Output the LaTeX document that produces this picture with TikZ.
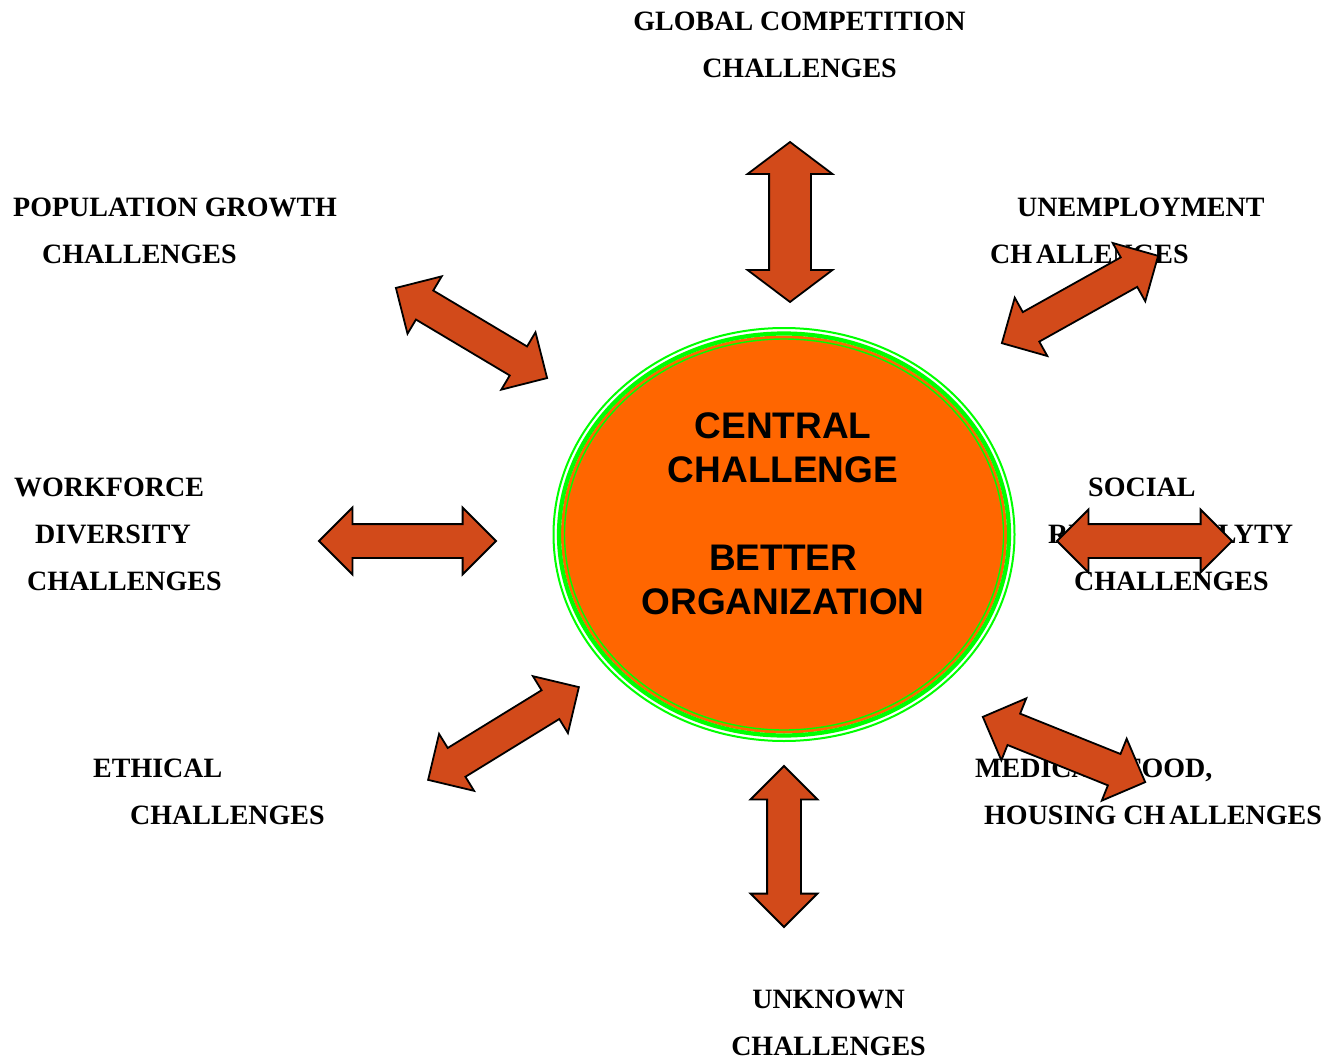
\documentclass[tikz,border=0pt]{standalone}
\usepackage{fontspec}
\usetikzlibrary{shapes.geometric,shapes.arrows}
\newfontfamily\lblfont{Liberation Serif}
\newfontfamily\corefont{Liberation Sans}
\definecolor{coreorange}{RGB}{255,102,0}
\definecolor{arrowred}{RGB}{210,74,26}
\tikzset{
	challenge/.style={anchor=base west, align=left, inner sep=0pt,
		font=\lblfont\bfseries\fontsize{28}{47}\selectfont},
	twoway/.style={shape=double arrow, draw=black, fill=arrowred, line width=1.8pt,
		inner xsep=0pt, inner ysep=16pt, double arrow head extend=16.5pt,
		double arrow tip angle=90, minimum height=177pt},
	core/.style={ellipse, fill=coreorange, inner sep=0pt,
		minimum width=446pt, minimum height=398pt},
	ring/.style={draw=green},
}

\begin{document}
\begin{tikzpicture}[x=1pt, y=-1pt]
	\useasboundingbox (0,0) rectangle (1324,1059);

	% the hub
	\node[core] (core) at (784,534.5) {};
	\draw[ring, line width=1.4pt] (core.center) ellipse (219.5 and 195.5);
	\draw[ring, line width=4.2pt] (core.center) ellipse (225 and 201);
	\draw[ring, line width=2pt] (core.center) ellipse (230.5 and 206.5);
	\node[anchor=base, align=center, inner sep=0pt,
		font=\corefont\bfseries\fontsize{37}{44}\selectfont] (coretxt) at (783,614)
		{CENTRAL\\CHALLENGE\\[44pt]BETTER\\ORGANIZATION};

	% the challenges around it (anchored on their last line)
	\node[challenge, anchor=base, align=center] (glob) at (799.5,78)
		{GLOBAL COMPETITION\\CHALLENGES};
	\node[challenge] (pop) at (13,263)
		{POPULATION GROWTH\\\hspace*{29pt}CHALLENGES};
	\node[challenge] (unemp) at (990,263)
		{\hspace*{27pt}UNEMPLOYMENT\\CH\hspace{4pt}ALLENGES};
	\node[challenge] (work) at (14,590)
		{WORKFORCE\\\hspace*{21pt}DIVERSITY\\\hspace*{13pt}CHALLENGES};
	\node[challenge] (soc) at (1048,590)
		{\hspace*{40pt}SOCIAL\\RESPONSIBILYTY\\\hspace*{26pt}CHALLENGES};
	\node[challenge] (eth) at (93,824)
		{ETHICAL\\\hspace*{37pt}CHALLENGES};
	\node[challenge] (med) at (975,824)
		{MEDICAL, FOOD,\\\hspace*{9pt}HOUSING CH\hspace{4pt}ALLENGES};
	\node[challenge, anchor=base, align=center] (unk) at (828.5,1055)
		{UNKNOWN\\CHALLENGES};

	% two-way arrows
	\node[twoway, rotate=90, minimum height=160pt, inner ysep=20pt,
		double arrow head extend=21.5pt, double arrow tip angle=106] (aglob) at (790,222) {};
	\node[twoway, rotate=90, minimum height=161pt] (aunk) at (784,846.5) {};
	\node[twoway] (awork) at (407.5,541) {};
	\node[twoway, minimum height=175pt, double arrow head extend=14.5pt] (asoc) at (1144.5,541) {};
	\node[twoway, rotate=-30.8, minimum height=176pt] (apop) at (471.5,333) {};
	\node[twoway, rotate=29.2, minimum height=179pt] (aunemp) at (1080,299.5) {};
	\node[twoway, rotate=31.6] (aeth) at (503.5,733.5) {};
	\node[twoway, rotate=-21.9, minimum height=175pt] (amed) at (1064,749.5) {};
\end{tikzpicture}
\end{document}
